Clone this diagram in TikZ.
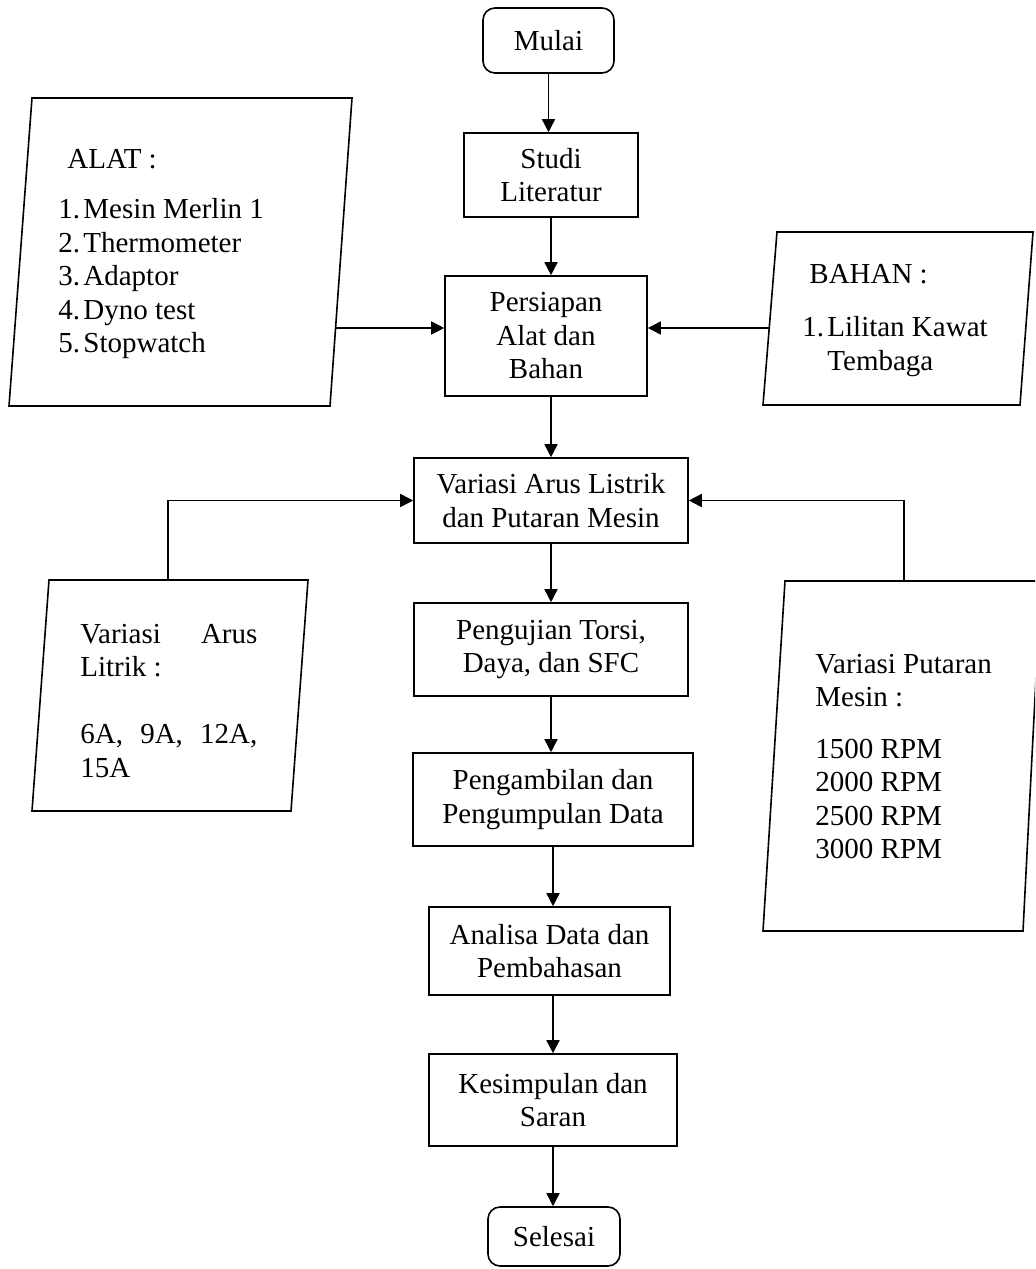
\documentclass[tikz,border=0pt]{standalone}
\usepackage{fontspec}
\setmainfont{Liberation Serif}
\usetikzlibrary{arrows.meta}
\newcommand\fsz{\fontsize{14.5pt}{16.75pt}\selectfont}
\begin{document}
\begin{tikzpicture}[x=0.5pt,y=-0.5pt,
  box/.style={draw, line width=0.8pt, align=center, inner sep=0pt, font=\fsz},
  term/.style={box, rounded corners=6pt},
  arr/.style={-{Triangle[length=6.5pt,width=6.5pt]}, line width=0.8pt},
  para/.style={draw, line width=0.8pt},
  txt/.style={anchor=north west, inner sep=0pt, align=left, font=\fsz}]
\useasboundingbox (0,0) rectangle (1035,1269);
\clip (0,0) rectangle (1035,1269);

% central column
\node[term, minimum width=65.5pt, minimum height=32.5pt] (mulai) at (548.5,40.5) {Mulai};
\node[box, minimum width=87pt, minimum height=42pt] (studi) at (551,175) {Studi\\Literatur};
\node[box, minimum width=101pt, minimum height=60pt] (persiapan) at (546,336) {Persiapan\\Alat dan\\Bahan};
\node[box, minimum width=137pt, minimum height=42.5pt] (variasi) at (551,500.5) {Variasi Arus Listrik\\dan Putaran Mesin};
\node[box, minimum width=137pt, minimum height=46.5pt] (pengujian) at (551,649.5) {Pengujian Torsi,\\Daya, dan SFC};
\node[box, minimum width=140pt, minimum height=46.5pt] (pengambilan) at (553,799.5) {Pengambilan dan\\Pengumpulan Data};
\node[box, minimum width=120.5pt, minimum height=44pt] (analisa) at (549.5,951) {Analisa Data dan\\Pembahasan};
\node[box, minimum width=124pt, minimum height=46pt] (kesimpulan) at (553,1100) {Kesimpulan dan\\Saran};
\node[term, minimum width=66pt, minimum height=29.5pt] (selesai) at (554,1236.5) {Selesai};

% vertical arrows
\draw[arr] (mulai.south) -- (mulai.south |- studi.north);
\draw[arr] (studi.south) -- (studi.south |- persiapan.north);
\draw[arr] (studi.south |- persiapan.south) -- (studi.south |- variasi.north);
\draw[arr] (variasi.south) -- (variasi.south |- pengujian.north);
\draw[arr] (pengujian.south) -- (pengujian.south |- pengambilan.north);
\draw[arr] (kesimpulan.south |- pengambilan.south) -- (kesimpulan.south |- analisa.north);
\draw[arr] (kesimpulan.south |- analisa.south) -- (kesimpulan.north);
\draw[arr] (kesimpulan.south) -- (kesimpulan.south |- selesai.north);

% ALAT parallelogram
\draw[para] (32,98) -- (352,98) -- (330,406) -- (9,406) -- cycle;
\node[txt] (alattxt) at (58,144.5) {\strut\hspace*{4.5pt}ALAT :\\[8.5pt]
\makebox[12.5pt][l]{1.}Mesin Merlin 1\\
\makebox[12.5pt][l]{2.}Thermometer\\
\makebox[12.5pt][l]{3.}Adaptor\\
\makebox[12.5pt][l]{4.}Dyno test\\
\makebox[12.5pt][l]{5.}Stopwatch};
\coordinate (alatR) at (336,328);
\draw[arr] (alatR) -- (alatR -| persiapan.west);

% BAHAN parallelogram
\draw[para] (777,232) -- (1033,232) -- (1020,405) -- (763,405) -- cycle;
\node[txt] (bahantxt) at (802,259.5) {\strut\hspace*{3.5pt}BAHAN :\\[10pt]
\makebox[12.5pt][l]{1.}Lilitan Kawat\\
\hspace*{12.5pt}Tembaga};
\coordinate (bahanL) at (769,328);
\draw[arr] (bahanL) -- (bahanL -| persiapan.east);

% Arus parallelogram
\draw[para] (49,580) -- (308,580) -- (291,811) -- (32,811) -- cycle;
\node[txt] (arustxt) at (80,619.5) {\strut\makebox[88.5pt][s]{Variasi Arus}\\
Litrik :\\[16.75pt]
\makebox[88.5pt][s]{6A, 9A, 12A,}\\
15A};
\coordinate (arusT) at (168,580);
\draw[arr] (arusT) |- (variasi.west);

% Putaran parallelogram
\draw[para] (785,581) -- (1041,581) -- (1023,931) -- (763,931) -- cycle;
\node[txt] (puttxt) at (815,649.5) {\strut Variasi Putaran\\
Mesin :\\[9pt]
1500 RPM\\
2000 RPM\\
2500 RPM\\
3000 RPM};
\coordinate (putT) at (904,581);
\draw[arr] (putT) |- (variasi.east);
\end{tikzpicture}
\end{document}
